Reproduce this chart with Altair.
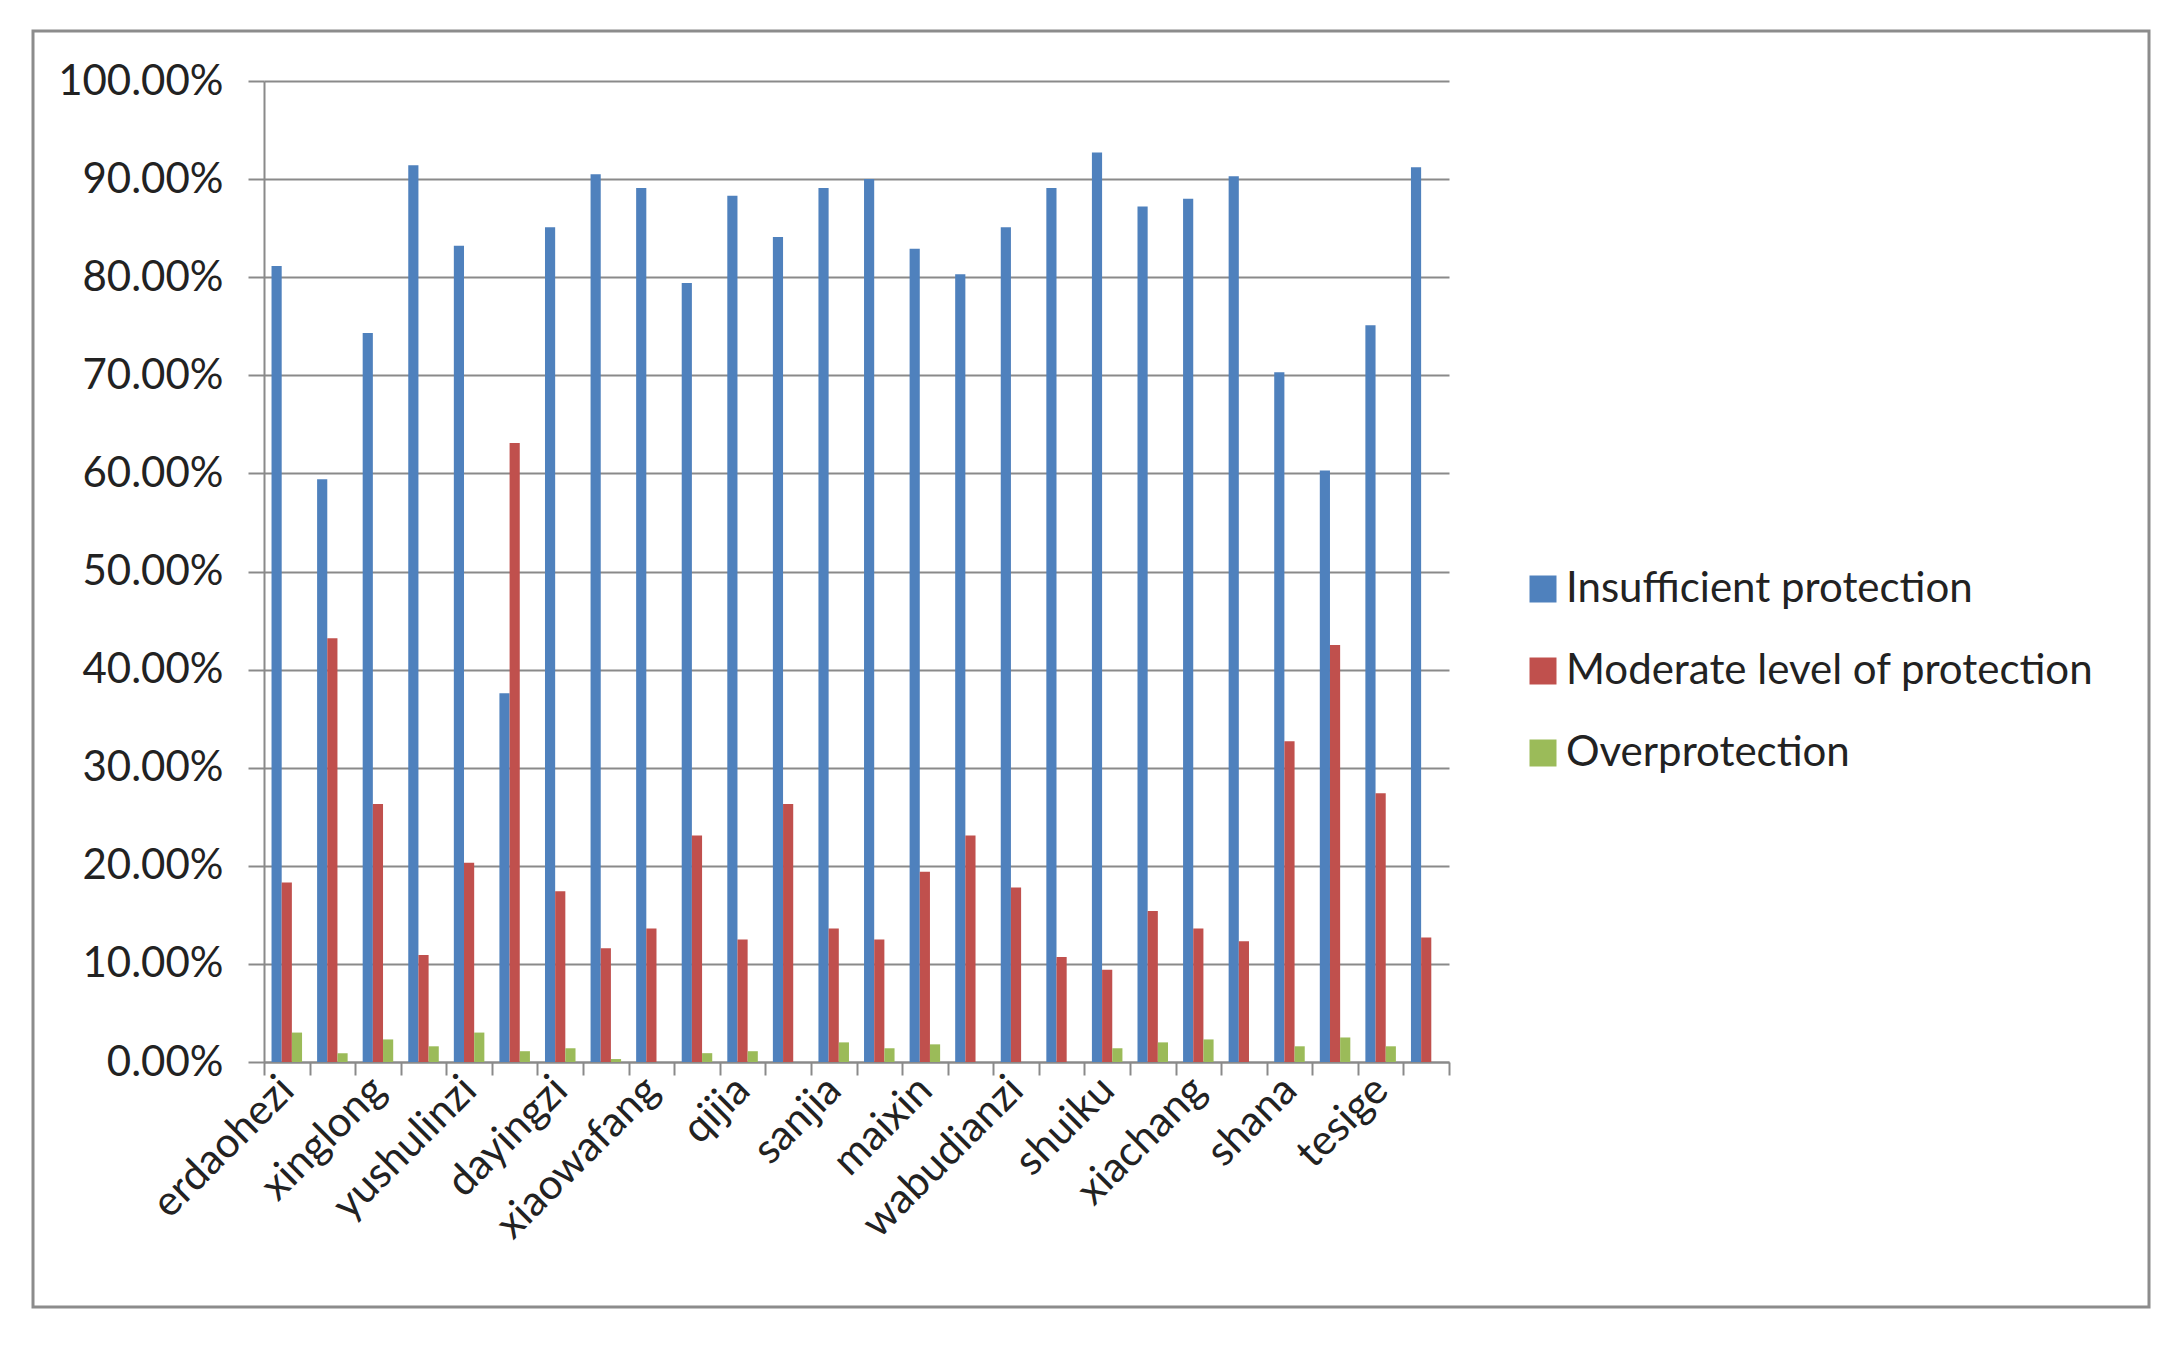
import json
import altair as alt
import pandas as pd

# ---- data ----
positions = list(range(1, 27))
labels = ["erdaohezi", "", "xinglong", "", "yushulinzi", "", "dayingzi", "",
          "xiaowafang", "", "qijia", "", "sanjia", "", "maixin", "",
          "wabudianzi", "", "shuiku", "", "xiachang", "", "shana", "", "tesige", ""]
series = ["Insufficient protection", "Moderate level of protection", "Overprotection"]
insufficient = [81.15, 59.4, 74.3, 91.4, 83.2, 37.6, 85.1, 90.5, 89.1, 79.4, 88.3, 84.1, 89.1,
                90.0, 82.9, 80.3, 85.1, 89.1, 92.7, 87.2, 88.0, 90.3, 70.3, 60.3, 75.1, 91.2]
moderate = [18.3, 43.2, 26.3, 10.9, 20.3, 63.1, 17.4, 11.6, 13.6, 23.1, 12.5, 26.3, 13.6,
            12.5, 19.4, 23.1, 17.8, 10.7, 9.4, 15.4, 13.6, 12.3, 32.7, 42.5, 27.4, 12.7]
over = [3.0, 0.9, 2.3, 1.6, 3.0, 1.1, 1.4, 0.3, 0.0, 0.9, 1.1, 0.0, 2.0,
        1.4, 1.8, 0.0, 0.0, 0.0, 1.4, 2.0, 2.3, 0.0, 1.6, 2.5, 1.6, 0.0]
colors = ["#4F81BD", "#C0504D", "#9BBB59"]
y_ticks = [i / 10 for i in range(11)]

rows = []
for name, vals in zip(series, [insufficient, moderate, over]):
    for p, v in zip(positions, vals):
        rows.append({"pos": p, "series": name, "value": v / 100})
df = pd.DataFrame(rows)

FONT = "Lato"
GRID = "#8a8a8a"
W, H = 1185, 981

label_expr = json.dumps(labels) + "[datum.value - 1]"

bars = alt.Chart(df).mark_bar().encode(
    x=alt.X("pos:O",
            scale=alt.Scale(paddingInner=0, paddingOuter=0),
            axis=alt.Axis(title=None, labelAngle=-45, labelAlign="right", labelBaseline="middle",
                          labelExpr=label_expr, labelFont=FONT, labelFontSize=42,
                          labelColor="#222222", labelPadding=8, tickBand="extent",
                          tickSize=13, tickColor=GRID, tickWidth=2, domainColor=GRID,
                          domainWidth=2, grid=False, labelOverlap=False, labelLimit=1000)),
    xOffset=alt.XOffset("series:N", sort=series,
                        scale=alt.Scale(paddingInner=0, paddingOuter=0.74)),
    y=alt.Y("value:Q",
            scale=alt.Scale(domain=[0, 1], nice=False),
            axis=alt.Axis(title=None, values=y_ticks, format=".2%", labelFont=FONT,
                          labelFontSize=42, labelColor="#222222", labelPadding=25,
                          tickSize=16, tickColor=GRID, tickWidth=2, domainColor=GRID,
                          domainWidth=2, grid=True, gridColor=GRID, gridWidth=2)),
    color=alt.Color("series:N", sort=series,
                    scale=alt.Scale(domain=series, range=colors),
                    legend=alt.Legend(title=None, orient="none", legendX=1258, legendY=487,
                                      labelFont=FONT, labelFontSize=42, labelColor="#222222",
                                      symbolType="square", symbolSize=729, symbolStrokeWidth=0,
                                      labelOffset=2, rowPadding=40, labelLimit=800)),
)

frame_df = pd.DataFrame({"k": [0]})
frame = alt.Chart(frame_df).mark_rect(fill=None, stroke="#8c8c8c", strokeWidth=3).encode(
    x=alt.value(-231), x2=alt.value(1885), y=alt.value(-50), y2=alt.value(1226)
)

chart = alt.layer(bars, frame).properties(
    width=W, height=H,
    autosize=alt.AutoSizeParams(type="none"),
    padding={"left": 256, "top": 73, "right": 715, "bottom": 268},
    background="white",
).configure_view(stroke=None)

chart.save("out.html", embed_options={"renderer": "svg", "actions": False})
